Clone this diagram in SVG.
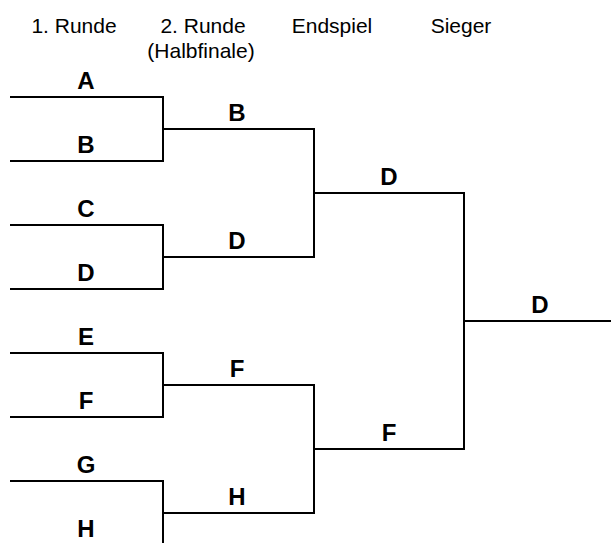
<svg xmlns="http://www.w3.org/2000/svg" width="611" height="543" viewBox="0 0 611 543">
<style>
.h{font-family:"Liberation Sans",Arial,sans-serif;font-size:21px;fill:#000;text-anchor:middle}
.l{font-family:"Liberation Sans",Arial,sans-serif;font-size:24px;font-weight:bold;fill:#000;text-anchor:middle}
.c{fill:none;stroke:#000;stroke-width:2}
</style>
<rect width="611" height="543" fill="#fff"/>
<g id="headers">
<text class="h" x="74" y="33">1. Runde</text>
<text class="h" x="203" y="33">2. Runde</text>
<text class="h" x="201" y="58">(Halbfinale)</text>
<text class="h" x="332" y="33">Endspiel</text>
<text class="h" x="461" y="33">Sieger</text>
</g>
<g id="connectors">
<path class="c" d="M10,97H163V161H10"/>
<path class="c" d="M10,225H163V289H10"/>
<path class="c" d="M10,353H163V417H10"/>
<path class="c" d="M10,481H163V545H10"/>
<path class="c" d="M163,129H314V257H163"/>
<path class="c" d="M163,385H314V513H163"/>
<path class="c" d="M314,193H464V449H314"/>
<path class="c" d="M464,321H611"/>
</g>
<g id="r1-A"><text class="l" x="86" y="89">A</text></g>
<g id="r1-B"><text class="l" x="86" y="153">B</text></g>
<g id="r1-C"><text class="l" x="86" y="217">C</text></g>
<g id="r1-D"><text class="l" x="86" y="281">D</text></g>
<g id="r1-E"><text class="l" x="86" y="345">E</text></g>
<g id="r1-F"><text class="l" x="86" y="409">F</text></g>
<g id="r1-G"><text class="l" x="86" y="473">G</text></g>
<g id="r1-H"><text class="l" x="86" y="537">H</text></g>
<g id="r2-B"><text class="l" x="237" y="121">B</text></g>
<g id="r2-D"><text class="l" x="237" y="249">D</text></g>
<g id="r2-F"><text class="l" x="237" y="377">F</text></g>
<g id="r2-H"><text class="l" x="237" y="505">H</text></g>
<g id="final-D"><text class="l" x="389" y="185">D</text></g>
<g id="final-F"><text class="l" x="389" y="441">F</text></g>
<g id="winner-D"><text class="l" x="540" y="313">D</text></g>
</svg>
